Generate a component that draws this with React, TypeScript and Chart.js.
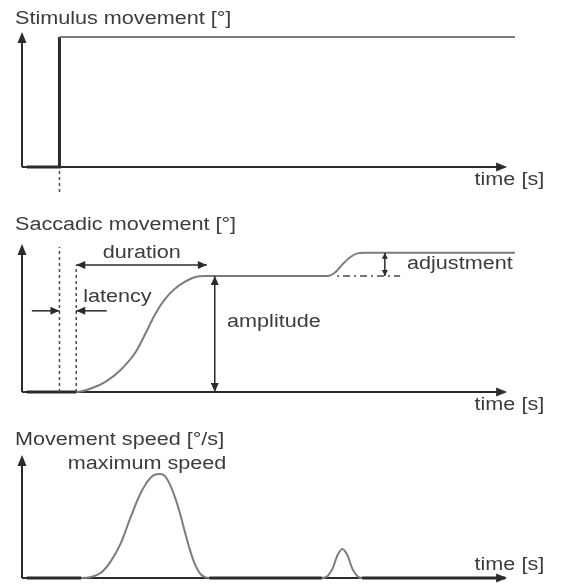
import React, { useEffect, useRef } from "react";
import { Chart, registerables } from "chart.js";
Chart.register(...registerables);

// ---- data (time in arbitrary units 0..100, amplitude normalised) ----
const stimulusTime = [1, 7.6, 7.6, 100];
const stimulusValue = [0, 0, 1, 1];

const saccadeTime = [1, 11, 14, 17, 20, 23, 25, 27, 29, 31, 33, 35, 37, 62, 63.5, 65, 66.5, 68, 69.5, 100];
const saccadeValue = [0, 0, 0.03, 0.09, 0.19, 0.34, 0.5, 0.67, 0.8, 0.89, 0.95, 0.99, 1.0, 1.0, 1.03, 1.1, 1.16, 1.195, 1.2, 1.2];

const speedTime = [1, 12, 14, 16, 18, 20, 22, 24, 26, 27, 28, 29, 30, 31, 32, 33, 34, 35, 36, 37, 38, 60.8, 62, 63, 64, 65, 66, 67, 68, 69, 98];
const speedValue = [0, 0, 0.01, 0.05, 0.16, 0.33, 0.58, 0.81, 0.96, 0.995, 1, 0.98, 0.9, 0.78, 0.63, 0.45, 0.28, 0.14, 0.05, 0.01, 0, 0, 0.02, 0.09, 0.22, 0.28, 0.22, 0.09, 0.02, 0, 0];

// annotation values
const stimulusOnset = 7.6;
const saccadeStart = 11;
const saccadeEnd = 37.5;
const amplitudeMarkerTime = 39.1;
const amplitude = 1.0;
const adjustedAmplitude = 1.2;
const adjustmentMarkerTime = 73.6;
const adjustmentGuideStart = 63.9;
const adjustmentGuideEnd = 76.7;
const axisEnd = 98.4;

// texts
const panelTitles = ["Stimulus movement [°]", "Saccadic movement [°]", "Movement speed [°/s]"];
const timeLabel = "time [s]";
const labelDuration = "duration";
const labelLatency = "latency";
const labelAmplitude = "amplitude";
const labelAdjustment = "adjustment";
const labelMaxSpeed = "maximum speed";

const CURVE = "#7c7c7c";
const DARK = "#2b2b2b";
const TEXT = "#3c3c3c";
const FONT = '"Liberation Sans", Arial, sans-serif';

function txt(ctx: CanvasRenderingContext2D, s: string, x: number, y: number, align: CanvasTextAlign = "left", size = 18) {
  ctx.save();
  ctx.font = `${size}px ${FONT}`;
  ctx.fillStyle = TEXT;
  ctx.textBaseline = "middle";
  ctx.textAlign = align;
  ctx.translate(x, y);
  ctx.scale(1.2, 1);
  ctx.fillText(s, 0, 0);
  ctx.restore();
}

function head(ctx: CanvasRenderingContext2D, x: number, y: number, ang: number, len = 10, half = 4) {
  ctx.save();
  ctx.translate(x, y);
  ctx.rotate(ang);
  ctx.beginPath();
  ctx.moveTo(0, 0);
  ctx.lineTo(-len, -half);
  ctx.lineTo(-len, half);
  ctx.closePath();
  ctx.fill();
  ctx.restore();
}

function arrow(ctx: CanvasRenderingContext2D, x1: number, y1: number, x2: number, y2: number, both: boolean, len = 9, half = 4) {
  const ang = Math.atan2(y2 - y1, x2 - x1);
  ctx.save();
  ctx.strokeStyle = DARK;
  ctx.fillStyle = DARK;
  ctx.lineWidth = 1.5;
  ctx.setLineDash([]);
  ctx.beginPath();
  ctx.moveTo(x1, y1);
  ctx.lineTo(x2, y2);
  ctx.stroke();
  head(ctx, x2, y2, ang, len, half);
  if (both) head(ctx, x1, y1, ang + Math.PI, len, half);
  ctx.restore();
}

function dashed(ctx: CanvasRenderingContext2D, x1: number, y1: number, x2: number, y2: number, dash: number[]) {
  ctx.save();
  ctx.strokeStyle = "#4a4a4a";
  ctx.lineWidth = 1.5;
  ctx.setLineDash(dash);
  ctx.beginPath();
  ctx.moveTo(x1, y1);
  ctx.lineTo(x2, y2);
  ctx.stroke();
  ctx.restore();
}

function drawAxes(chart: any, title: string, titleY: number, timeDy: number) {
  const ctx: CanvasRenderingContext2D = chart.ctx;
  const xs = chart.scales.x;
  const ys = chart.scales.y;
  const x0 = xs.left;
  const yb = ys.getPixelForValue(0);
  const tipX = xs.getPixelForValue(axisEnd);
  const tipY = ys.top;
  ctx.save();
  ctx.strokeStyle = DARK;
  ctx.fillStyle = DARK;
  ctx.lineWidth = 2;
  ctx.beginPath();
  ctx.moveTo(x0, yb);
  ctx.lineTo(tipX - 8, yb);
  ctx.moveTo(x0, yb);
  ctx.lineTo(x0, tipY + 8);
  ctx.stroke();
  head(ctx, tipX, yb, 0, 11, 4.5);
  head(ctx, x0, tipY, -Math.PI / 2, 11, 4.5);
  ctx.restore();
  txt(ctx, title, 15, titleY);
  txt(ctx, timeLabel, xs.getPixelForValue(91.8), yb + timeDy);
}

type Drawer = (chart: any) => void;

function makeConfig(times: number[], values: number[], yMax: number, padding: any, smooth: boolean, axes: Drawer, draw: Drawer) {
  return {
    type: "line" as const,
    data: {
      datasets: [
        {
          data: times.map((t, i) => ({ x: t, y: values[i] })),
          borderColor: CURVE,
          borderWidth: 2,
          pointRadius: 0,
          fill: false,
          clip: false as any,
          tension: 0,
          cubicInterpolationMode: smooth ? ("monotone" as const) : ("default" as const),
          segment: {
            borderColor: (c: any) =>
              (c.p0.parsed.y === 0 && c.p1.parsed.y === 0) || c.p0.parsed.x === c.p1.parsed.x ? DARK : undefined,
            borderWidth: (c: any) =>
              (c.p0.parsed.y === 0 && c.p1.parsed.y === 0) || c.p0.parsed.x === c.p1.parsed.x ? 3 : undefined,
          },
        },
      ],
    },
    options: {
      responsive: false,
      animation: false as const,
      events: [] as any[],
      layout: { padding },
      plugins: { legend: { display: false }, tooltip: { enabled: false }, title: { display: false } },
      scales: {
        x: { type: "linear" as const, min: 0, max: 100, display: false },
        y: { type: "linear" as const, min: 0, max: yMax, display: false },
      },
    },
    plugins: [
      {
        id: "schematic",
        beforeDatasetsDraw(chart: any) {
          axes(chart);
        },
        afterDatasetsDraw(chart: any) {
          draw(chart);
        },
      },
    ],
  };
}

function stimulusConfig() {
  return makeConfig(
    stimulusTime,
    stimulusValue,
    1.0385,
    { left: 22, right: 52, top: 32, bottom: 33 },
    false,
    (c) => drawAxes(c, panelTitles[0], 19, 13),
    (chart) => {
      const ctx = chart.ctx;
      const xs = chart.scales.x;
      const ys = chart.scales.y;
      const x = xs.getPixelForValue(stimulusOnset);
      const yb = ys.getPixelForValue(0);
      dashed(ctx, x, yb + 4, x, yb + 26, [3, 3]);
    }
  );
}

function saccadeConfig() {
  return makeConfig(
    saccadeTime,
    saccadeValue,
    1.276,
    { left: 22, right: 52, top: 44, bottom: 28 },
    true,
    (c) => drawAxes(c, panelTitles[1], 25, 13),
    (chart) => {
      const ctx = chart.ctx;
      const xs = chart.scales.x;
      const ys = chart.scales.y;
      const X = (t: number) => xs.getPixelForValue(t);
      const Y = (v: number) => ys.getPixelForValue(v);
      dashed(ctx, X(stimulusOnset), Y(0), X(stimulusOnset), Y(1.25), [3, 3]);
      dashed(ctx, X(saccadeStart), Y(0), X(saccadeStart), Y(1.095), [3, 3]);
      arrow(ctx, X(saccadeStart), Y(1.095), X(saccadeEnd), Y(1.095), true);
      txt(ctx, labelDuration, X(24.3), Y(1.2), "center");
      arrow(ctx, X(2), Y(0.7), X(stimulusOnset), Y(0.7), false);
      arrow(ctx, X(17.2), Y(0.7), X(saccadeStart), Y(0.7), false);
      txt(ctx, labelLatency, X(12.4), Y(0.82));
      arrow(ctx, X(amplitudeMarkerTime), Y(0), X(amplitudeMarkerTime), Y(amplitude), true);
      txt(ctx, labelAmplitude, X(41.6), Y(0.6));
      dashed(ctx, X(adjustmentGuideStart), Y(amplitude), X(adjustmentGuideEnd), Y(amplitude), [2, 4, 7, 4]);
      arrow(ctx, X(adjustmentMarkerTime), Y(amplitude), X(adjustmentMarkerTime), Y(adjustedAmplitude), true, 6, 3);
      txt(ctx, labelAdjustment, X(78.1), Y(1.1));
    }
  );
}

function speedConfig() {
  return makeConfig(
    speedTime,
    speedValue,
    1.183,
    { left: 22, right: 52, top: 35, bottom: 6 },
    true,
    (c) => drawAxes(c, panelTitles[2], 20, -13),
    (chart) => {
      const ctx = chart.ctx;
      const xs = chart.scales.x;
      const ys = chart.scales.y;
      txt(ctx, labelMaxSpeed, xs.getPixelForValue(9.3), ys.getPixelForValue(1.096));
    }
  );
}

function Panel({ make, top, height }: { make: () => any; top: number; height: number }) {
  const ref = useRef<HTMLCanvasElement>(null);
  useEffect(() => {
    const chart = new Chart(ref.current as HTMLCanvasElement, make());
    return () => chart.destroy();
  }, []);
  return (
    <canvas
      ref={ref}
      width={567}
      height={height}
      style={{ position: "absolute", left: 0, top, width: 567, height, display: "block" }}
    />
  );
}

export default function App() {
  return (
    <div style={{ position: "absolute", left: 0, top: 0, width: 567, height: 584, background: "#fff", overflow: "hidden" }}>
      <Panel make={stimulusConfig} top={0} height={200} />
      <Panel make={saccadeConfig} top={200} height={220} />
      <Panel make={speedConfig} top={420} height={164} />
    </div>
  );
}
